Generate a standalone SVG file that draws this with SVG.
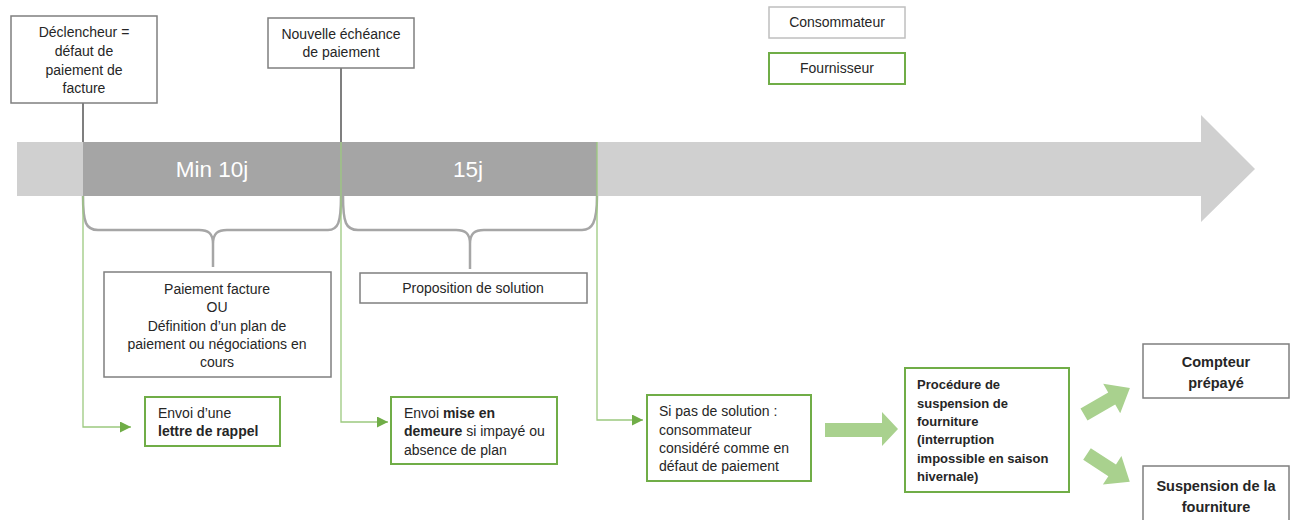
<svg xmlns="http://www.w3.org/2000/svg" width="1296" height="520" viewBox="0 0 1296 520">
  <style>
    text { font-family: "Liberation Sans", Arial, sans-serif; font-size: 14px; fill: #262626; }
    .c { text-anchor: middle; }
    .b { font-weight: bold; }
    .sm { font-size: 13px; }
    .lg { font-size: 14.5px; }
    .big { font-size: 22.5px; fill: #ffffff; text-anchor: middle; }
    .consumer { fill: #ffffff; stroke: #7f7f7f; stroke-width: 1.5; }
    .consumer-light { fill: #ffffff; stroke: #bfbfbf; stroke-width: 1.5; }
    .supplier { fill: #ffffff; stroke: #70ad47; stroke-width: 2; }
    .tick { stroke: #7f7f7f; stroke-width: 2; fill: none; }
    .brace { stroke: #a6a6a6; stroke-width: 2.5; fill: none; }
    .flow { stroke: #9cc97f; stroke-width: 1.3; fill: none; }
    .fat { fill: #a9d18e; }
  </style>
  <defs>
    <marker id="tri" viewBox="0 0 10 10" refX="10" refY="5" markerWidth="11" markerHeight="11" markerUnits="userSpaceOnUse" orient="auto">
      <path d="M0,0 L10,5 L0,10 Z" fill="#70ad47"/>
    </marker>
  </defs>

  <!-- timeline -->
  <g id="timeline">
    <polygon points="17,142 1201,142 1201,115 1255,169 1201,222 1201,196 17,196" fill="#d0d0d0"/>
    <rect x="83" y="142" width="514" height="54" fill="#a5a5a5"/>
    <text class="big" x="212" y="177">Min 10j</text>
    <text class="big" x="468" y="177">15j</text>
  </g>

  <!-- connectors -->
  <g id="connectors">
    <line class="tick" x1="83" y1="103" x2="83" y2="142"/>
    <line class="tick" x1="341" y1="68" x2="341" y2="142"/>
    <path class="brace" d="M83,196 C83,223 86,230 98,230 L199,230 C208,230 213,233 213,244 L213,267 M213,244 C213,233 218,230 227,230 L328,230 C338,230 341,223 341,196"/>
    <path class="brace" d="M343,196 C343,223 346,230 358,230 L456,230 C465,230 470,233 470,244 L470,269 M470,244 C470,233 475,230 484,230 L582,230 C592,230 597,223 597,196"/>
    <line class="flow" x1="341" y1="142" x2="341" y2="196"/>
    <line class="flow" x1="597" y1="142" x2="597" y2="196"/>
    <path class="flow" d="M83,196 L83,427 L131,427" marker-end="url(#tri)"/>
    <path class="flow" d="M341,196 L341,422 L388,422" marker-end="url(#tri)"/>
    <path class="flow" d="M597,196 L597,420 L643,420" marker-end="url(#tri)"/>
    <polygon class="fat" points="825,423 882,423 882,412 898,429 882,446 882,437 825,437"/>
    <polygon class="fat" points="0,-7 32,-7 32,-17 53,0 32,17 32,7 0,7" transform="translate(1084,414.5) rotate(-30)"/>
    <polygon class="fat" points="0,-7 30,-7 30,-17 51,0 30,17 30,7 0,7" transform="translate(1087,454) rotate(33)"/>
  </g>

  <!-- legend -->
  <g id="legend-consommateur">
    <rect class="consumer-light" x="769" y="7" width="136" height="31"/>
    <text class="c" x="837" y="27">Consommateur</text>
  </g>
  <g id="legend-fournisseur">
    <rect class="supplier" x="769" y="53" width="136" height="31"/>
    <text class="c" x="837" y="73">Fournisseur</text>
  </g>

  <!-- milestones -->
  <g id="declencheur">
    <rect class="consumer" x="11" y="16" width="146" height="87"/>
    <text class="c" x="84" y="37">Déclencheur =</text>
    <text class="c" x="84" y="56">défaut de</text>
    <text class="c" x="84" y="75">paiement de</text>
    <text class="c" x="84" y="93">facture</text>
  </g>
  <g id="echeance">
    <rect class="consumer" x="268" y="18" width="146" height="50"/>
    <text class="c" x="341" y="39">Nouvelle échéance</text>
    <text class="c" x="341" y="57">de paiement</text>
  </g>

  <!-- consumer options -->
  <g id="paiement">
    <rect class="consumer" x="104" y="272" width="227" height="105"/>
    <text class="c" x="217" y="294">Paiement facture</text>
    <text class="c" x="217" y="312">OU</text>
    <text class="c" x="217" y="331">Définition d’un plan de</text>
    <text class="c" x="217" y="349">paiement ou négociations en</text>
    <text class="c" x="217" y="367">cours</text>
  </g>
  <g id="proposition">
    <rect class="consumer" x="360" y="273" width="227" height="30"/>
    <text class="c" x="473" y="293">Proposition de solution</text>
  </g>

  <!-- supplier actions -->
  <g id="rappel">
    <rect class="supplier" x="145" y="397" width="135" height="49"/>
    <text x="158" y="418">Envoi d’une</text>
    <text class="b" x="158" y="436">lettre de rappel</text>
  </g>
  <g id="demeure">
    <rect class="supplier" x="391" y="397" width="166" height="67"/>
    <text x="404" y="418">Envoi <tspan class="b">mise en</tspan></text>
    <text x="404" y="436"><tspan class="b">demeure</tspan> si impayé ou</text>
    <text x="404" y="454.5">absence de plan</text>
  </g>
  <g id="defaut">
    <rect class="supplier" x="647" y="395" width="164" height="86"/>
    <text x="659" y="416">Si pas de solution :</text>
    <text x="659" y="435">consommateur</text>
    <text x="659" y="453">considéré comme en</text>
    <text x="659" y="471">défaut de paiement</text>
  </g>
  <g id="procedure">
    <rect class="supplier" x="905" y="368" width="164" height="124"/>
    <text class="b sm" x="917" y="389">Procédure de</text>
    <text class="b sm" x="917" y="408">suspension de</text>
    <text class="b sm" x="917" y="426">fourniture</text>
    <text class="b sm" x="917" y="444">(interruption</text>
    <text class="b sm" x="917" y="463">impossible en saison</text>
    <text class="b sm" x="917" y="481">hivernale)</text>
  </g>

  <!-- outcomes -->
  <g id="compteur">
    <rect class="consumer" x="1143" y="344" width="146" height="54"/>
    <text class="c b lg" x="1216" y="367">Compteur</text>
    <text class="c b lg" x="1216" y="388">prépayé</text>
  </g>
  <g id="suspension">
    <rect class="consumer" x="1143" y="466" width="146" height="60"/>
    <text class="c b lg" x="1216" y="491">Suspension de la</text>
    <text class="c b lg" x="1216" y="512">fourniture</text>
  </g>
</svg>
